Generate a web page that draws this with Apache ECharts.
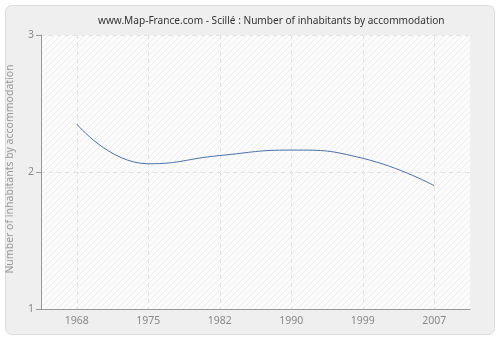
<!DOCTYPE html>
<html>
<head>
<meta charset="UTF-8">
<script src="https://cdn.jsdelivr.net/npm/echarts@6/dist/echarts.min.js"></script>
<style>
  html, body { margin: 0; padding: 0; background: #fff; }
  #chart { width: 500px; height: 340px; }
</style>
</head>
<body>
<div id="chart"></div>
<script>
var years = ['1968', '1975', '1982', '1990', '1999', '2007'];
var values = [2.35, 2.06, 2.12, 2.16, 2.10, 1.90];
var yTicks = [1, 2, 3];

// hatch pattern for the plot area
function makeHatch() {
    var c = document.createElement('canvas');
    c.width = 6; c.height = 6;
    var ctx = c.getContext('2d');
    ctx.fillStyle = '#fbfbfb';
    ctx.fillRect(0, 0, 6, 6);
    ctx.strokeStyle = '#ededed';
    ctx.lineWidth = 1;
    ctx.beginPath();
    ctx.moveTo(0, 6); ctx.lineTo(6, 0);
    ctx.moveTo(-1, 1); ctx.lineTo(1, -1);
    ctx.moveTo(5, 7); ctx.lineTo(7, 5);
    ctx.stroke();
    return c;
}

var font = 'Noto Sans';
var chart = echarts.init(document.getElementById('chart'));
var option = {
    animation: false,
    backgroundColor: '#fff',
    graphic: [{
        type: 'rect',
        z: -10,
        shape: { x: 5.5, y: 5.5, width: 489, height: 329, r: 6 },
        style: { fill: '#efefef', stroke: '#dcdcdc', lineWidth: 1 }
    }],
    title: {
        text: 'www.Map-France.com - Scillé : Number of inhabitants by accommodation',
        left: 93,
        top: 11,
        textStyle: { fontFamily: font, fontSize: 10.1, fontWeight: 'normal', color: '#333' }
    },
    grid: {
        left: 41, right: 30, top: 35, bottom: 31,
        outerBoundsMode: 'none',
        containLabel: false,
        show: true,
        borderWidth: 0,
        backgroundColor: { image: makeHatch(), repeat: 'repeat' }
    },
    xAxis: {
        type: 'category',
        data: years,
        boundaryGap: true,
        axisLine: { lineStyle: { color: '#999' } },
        axisTick: { alignWithLabel: true, length: 5, lineStyle: { color: '#999' } },
        axisLabel: { color: '#888', fontFamily: font, fontSize: 10.5, margin: 7 },
        splitLine: { show: true, alignWithLabel: true, lineStyle: { color: '#e2e2e2', type: [4, 4] } }
    },
    yAxis: {
        type: 'value',
        min: yTicks[0],
        max: yTicks[yTicks.length - 1],
        interval: 1,
        name: 'Number of inhabitants by accommodation',
        nameLocation: 'middle',
        nameGap: 25,
        nameTextStyle: { color: '#999', fontFamily: font, fontSize: 10.5, padding: [0, 0, 0, 6] },
        axisLine: { show: true, lineStyle: { color: '#999' } },
        axisTick: { show: true, length: 5, lineStyle: { color: '#999' } },
        axisLabel: { color: '#888', fontFamily: font, fontSize: 10.5, margin: 7 },
        splitLine: { show: true, lineStyle: { color: '#e2e2e2', type: [4, 4] } }
    },
    series: [{
        type: 'line',
        data: values,
        smooth: 0.5,
        symbol: 'none',
        lineStyle: { color: '#4a72a8', width: 1 }
    }]
};
chart.setOption(option);
</script>
</body>
</html>
